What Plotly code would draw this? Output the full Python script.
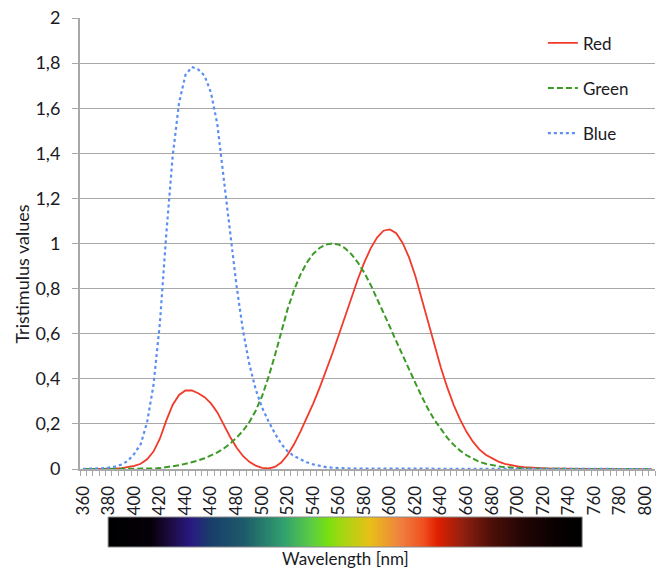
import plotly.graph_objects as go

# Wavelengths (nm), 5 nm steps
wavelengths = list(range(360, 810, 5))

red = [0.0001, 0.0002, 0.0004, 0.0007, 0.0014, 0.0022, 0.0042, 0.0077, 0.0143, 0.0232,
       0.0435, 0.0776, 0.1344, 0.2148, 0.2839, 0.3285, 0.3483, 0.3481, 0.3362, 0.3187,
       0.2908, 0.2511, 0.1954, 0.1421, 0.0956, 0.0580, 0.0320, 0.0147, 0.0049, 0.0024,
       0.0093, 0.0291, 0.0633, 0.1096, 0.1655, 0.2258, 0.2904, 0.3597, 0.4335, 0.5121,
       0.5945, 0.6784, 0.7621, 0.8425, 0.9163, 0.9786, 1.0263, 1.0567, 1.0622, 1.0456,
       1.0026, 0.9384, 0.8545, 0.7514, 0.6424, 0.5419, 0.4479, 0.3608, 0.2835, 0.2187,
       0.1649, 0.1212, 0.0874, 0.0636, 0.0468, 0.0329, 0.0227, 0.0158, 0.0114, 0.0081,
       0.0058, 0.0041, 0.0029, 0.0020, 0.0014, 0.0010, 0.0007, 0.0005, 0.0003, 0.0002,
       0.0002, 0.0001, 0.0001, 0.0001, 0.0000, 0.0000, 0.0000, 0.0000, 0.0000, 0.0000]

green = [0.0000, 0.0000, 0.0000, 0.0000, 0.0000, 0.0001, 0.0001, 0.0002, 0.0004, 0.0006,
         0.0012, 0.0022, 0.0040, 0.0073, 0.0116, 0.0168, 0.0230, 0.0298, 0.0380, 0.0480,
         0.0600, 0.0739, 0.0910, 0.1126, 0.1390, 0.1693, 0.2080, 0.2586, 0.3230, 0.4073,
         0.5030, 0.6082, 0.7100, 0.7932, 0.8620, 0.9149, 0.9540, 0.9803, 0.9950, 1.0000,
         0.9950, 0.9786, 0.9520, 0.9154, 0.8700, 0.8163, 0.7570, 0.6949, 0.6310, 0.5668,
         0.5030, 0.4412, 0.3810, 0.3210, 0.2650, 0.2170, 0.1750, 0.1382, 0.1070, 0.0816,
         0.0610, 0.0446, 0.0320, 0.0232, 0.0170, 0.0119, 0.0082, 0.0057, 0.0041, 0.0029,
         0.0021, 0.0015, 0.0010, 0.0007, 0.0005, 0.0004, 0.0002, 0.0002, 0.0001, 0.0001,
         0.0001, 0.0000, 0.0000, 0.0000, 0.0000, 0.0000, 0.0000, 0.0000, 0.0000, 0.0000]

blue = [0.0006, 0.0011, 0.0019, 0.0035, 0.0065, 0.0106, 0.0201, 0.0362, 0.0679, 0.1102,
        0.2074, 0.3713, 0.6456, 1.0391, 1.3856, 1.6230, 1.7471, 1.7826, 1.7721, 1.7441,
        1.6692, 1.5281, 1.2876, 1.0419, 0.8130, 0.6162, 0.4652, 0.3533, 0.2720, 0.2123,
        0.1582, 0.1117, 0.0783, 0.0573, 0.0422, 0.0298, 0.0203, 0.0134, 0.0088, 0.0058,
        0.0039, 0.0028, 0.0021, 0.0018, 0.0017, 0.0014, 0.0011, 0.0010, 0.0008, 0.0006,
        0.0003, 0.0002, 0.0002, 0.0001, 0.0001, 0.0000, 0.0000, 0.0000, 0.0000, 0.0000,
        0.0000, 0.0000, 0.0000, 0.0000, 0.0000, 0.0000, 0.0000, 0.0000, 0.0000, 0.0000,
        0.0000, 0.0000, 0.0000, 0.0000, 0.0000, 0.0000, 0.0000, 0.0000, 0.0000, 0.0000,
        0.0000, 0.0000, 0.0000, 0.0000, 0.0000, 0.0000, 0.0000, 0.0000, 0.0000, 0.0000]

series_names = ["Red", "Green", "Blue"]

# Spectrum bar (visible range) and its colour stops
spectrum_wl = list(range(380, 751))
spectrum_stops_wl = [380, 412, 425, 444, 459, 485, 516, 540, 551, 561,
                     584, 608, 626, 637, 657, 678, 702, 731, 750]
spectrum_stops_col = ["#000000", "#050008", "#1a0a38", "#2a1a82", "#183e6a", "#1e5a6a",
                      "#30a070", "#60d040", "#78e010", "#a0d810", "#e8c018", "#f08040",
                      "#f05020", "#e02000", "#902010", "#501008", "#250505", "#080000",
                      "#000000"]

FONT = "Lato, 'Open Sans', sans-serif"
GRID = "#a8a8a8"
TXT = "#1a1a24"

fig = go.Figure()

styles = [dict(color="#f23a2a", width=1.8, dash="solid"),
          dict(color="#3a9a24", width=2.0, dash="6px,3px"),
          dict(color="#5a8ef2", width=2.2, dash="dot")]
for name, ys, st in zip(series_names, [red, green, blue], styles):
    fig.add_trace(go.Scatter(x=wavelengths, y=ys, mode="lines", name=name,
                             line=st, legendgroup=name, xaxis="x", yaxis="y"))

lo, hi = spectrum_stops_wl[0], spectrum_stops_wl[-1]
cscale = [[(w - lo) / (hi - lo), c] for w, c in zip(spectrum_stops_wl, spectrum_stops_col)]
fig.add_trace(go.Heatmap(x=spectrum_wl, y=[0], z=[spectrum_wl], colorscale=cscale,
                         zmin=lo, zmax=hi, showscale=False, hoverinfo="skip",
                         xaxis="x2", yaxis="y2", zsmooth="best"))

fig.add_shape(type="rect", xref="x2", yref="y2 domain",
              x0=spectrum_wl[0] - 0.5, x1=spectrum_wl[-1] + 0.5, y0=0, y1=1,
              line=dict(color="#8a8a8a", width=1))

fig.add_annotation(text="Wavelength [nm]", xref="x2", yref="paper",
                   x=(spectrum_wl[0] + spectrum_wl[-1]) / 2, y=0, yanchor="top",
                   yshift=1, showarrow=False, font=dict(family=FONT, size=17, color=TXT))

fig.add_annotation(text="Tristimulus values", xref="paper", yref="paper",
                   x=0, y=0.515, xanchor="center", yanchor="middle", xshift=-58,
                   textangle=-90, showarrow=False,
                   font=dict(family=FONT, size=18, color=TXT))

xr = [357.5, 807.5]
fig.update_layout(
    width=660, height=569,
    margin=dict(l=80, r=5, t=18, b=22),
    paper_bgcolor="white", plot_bgcolor="white",
    separators=", ",
    font=dict(family=FONT, color=TXT),
    showlegend=True,
    legend=dict(x=0.805, y=0.986, xanchor="left", yanchor="top",
                bgcolor="rgba(0,0,0,0)", tracegroupgap=20,
                font=dict(family=FONT, size=17, color=TXT)),
    xaxis=dict(domain=[0, 1], anchor="y", range=xr, tick0=360, dtick=20,
               tickangle=-90, ticks="", showgrid=False, zeroline=False,
               showline=True, linecolor=GRID, linewidth=2, ticklabelstandoff=8,
               tickfont=dict(family=FONT, size=17, color=TXT),
               minor=dict(ticks="outside", tick0=357.5, dtick=5, ticklen=5,
                          tickcolor=GRID, tickwidth=1, showgrid=False)),
    yaxis=dict(domain=[0.1474, 1], anchor="x", range=[0, 2], tick0=0, dtick=0.2,
               showgrid=True, gridcolor=GRID, gridwidth=1, zeroline=False,
               showline=True, linecolor=GRID, linewidth=2,
               ticks="outside", ticklen=6, tickcolor=GRID, ticklabelstandoff=8,
               tickfont=dict(family=FONT, size=18, color=TXT)),
    xaxis2=dict(domain=[0, 1], anchor="y2", range=xr, visible=False),
    yaxis2=dict(domain=[0, 0.0567], anchor="x2", range=[-0.5, 0.5], visible=False),
)

fig.write_html("out.html")
